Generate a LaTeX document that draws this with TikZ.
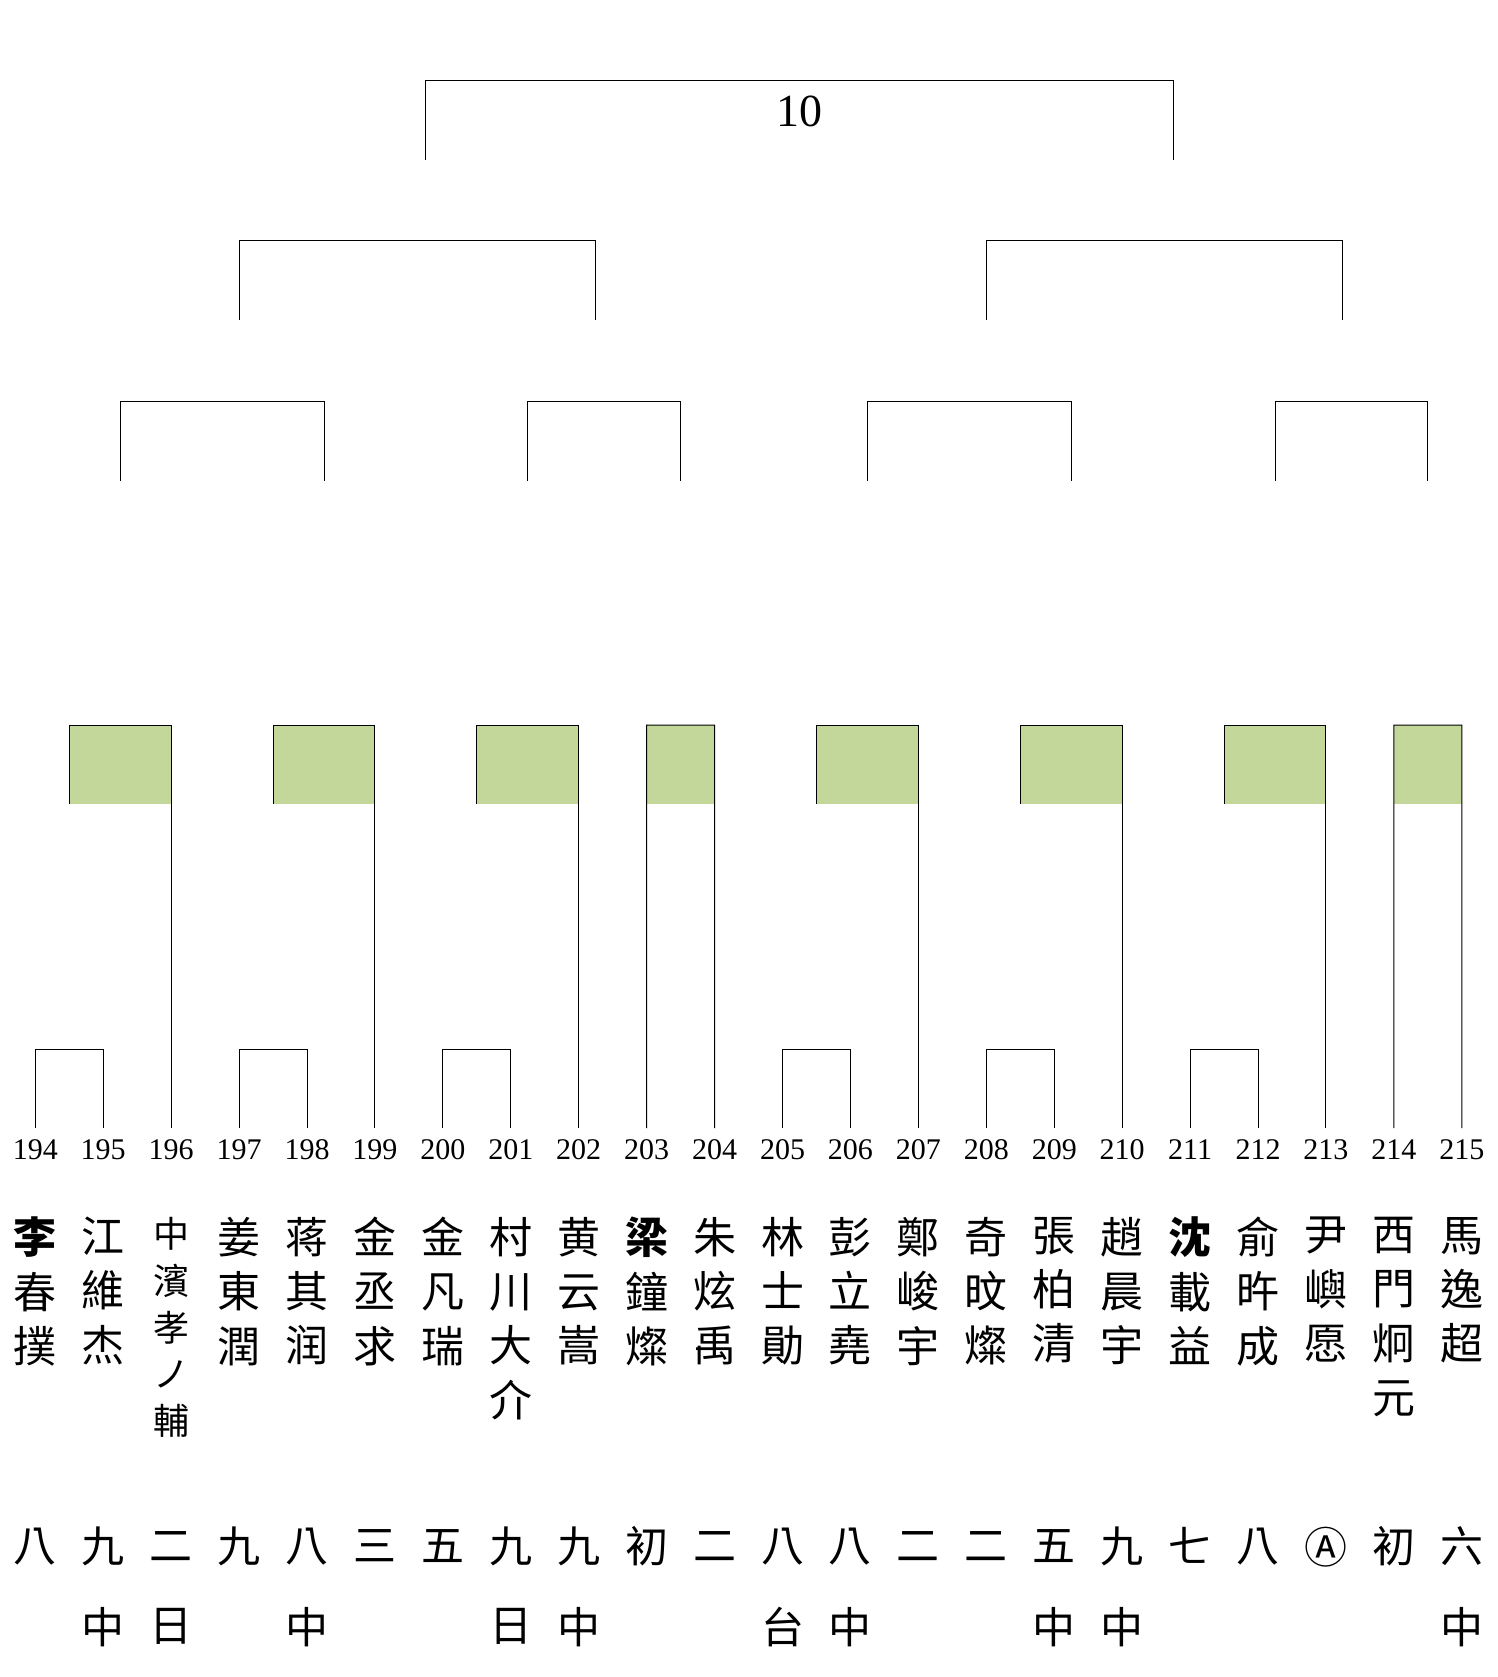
\documentclass[tikz,border=0pt]{standalone}
\usepackage{fontspec}
\usetikzlibrary{calc}
\newfontfamily\cjk{Noto Sans CJK TC}
\newfontfamily\cjkjp{Noto Sans CJK JP}
\newfontfamily\numfont{Liberation Serif}
\definecolor{boxgreen}{RGB}{196,215,155}
\newcommand\zs{\rule[-0.12em]{0pt}{0.88em}}
\begin{document}
\begin{tikzpicture}[x=1pt,y=-1pt,
  br/.style={line width=1pt, black},
  num/.style={font=\numfont\fontsize{30}{30}\selectfont, inner sep=0pt},
  topnum/.style={font=\numfont\fontsize{46}{46}\selectfont, inner sep=0pt},
  pname/.style={font=\cjk\fontsize{43}{54.4}\selectfont, align=center, anchor=north, inner sep=0pt},
  pnamesm/.style={font=\cjk\fontsize{36}{46.8}\selectfont, align=center, anchor=north, inner sep=0pt},
  rank/.style={font=\cjk\fontsize{43}{43}\selectfont, inner sep=0pt}]
\useasboundingbox (0,0) rectangle (1497,1677);
% leaves
\foreach \i in {0,...,21} {
  \pgfmathsetmacro\xx{35.3+67.93*\i}
  \pgfmathtruncatemacro\nn{194+\i}
  \coordinate (t\nn) at (\xx,1128);
  \node[num] (n\nn) at (\xx,1149.5) {\nn};
}
% first-round brackets
\foreach \a/\b in {194/195,197/198,200/201,205/206,208/209,211/212} {
  \draw[br] (t\a) -- ++(0,-79) -| (t\b);
}
% green boxes (second round)
\foreach \k/\a/\b/\c/\full in {1/194/195/196/0,2/197/198/199/0,3/200/201/202/0,4/203/203/204/1,5/205/206/207/0,6/208/209/210/0,7/211/212/213/0,8/214/214/215/1} {
  \coordinate (gm\k) at ($(t\a)!0.5!(t\b)$);
  \coordinate (gl\k) at (gm\k |- 0,725);
  \coordinate (gr\k) at (t\c |- 0,725);
  \coordinate (gb\k) at (gm\k |- 0,804);
  \fill[boxgreen] (gl\k) rectangle (gr\k |- gb\k);
  \ifnum\full=1
    \draw[br] (t\a) -- (gl\k) -- (gr\k) -- (t\c);
  \else
    \draw[br] (gb\k) -- (gl\k) -- (gr\k) -- (t\c);
  \fi
}
% third round
\foreach \k/\a/\b in {1/1/2,2/3/4,3/5/6,4/7/8} {
  \coordinate (pa\k) at ($(gl\a)!0.5!(gr\a)$);
  \coordinate (pb\k) at ($(gl\b)!0.5!(gr\b)$);
  \draw[br] (pa\k |- 0,481) -- (pa\k |- 0,401) -- (pb\k |- 0,401) -- (pb\k |- 0,481);
}
% semifinal
\coordinate (s1) at (t197 |- 0,240.3);
\coordinate (s2) at ($(t202)!0.25!(t203)$);
\coordinate (s3) at (t208 |- 0,240.3);
\coordinate (s4) at ($(t213)!0.25!(t214)$);
\draw[br] (s1 |- 0,320) -- (s1) -- (s2 |- 0,240.3) -- (s2 |- 0,320);
\draw[br] (s3 |- 0,320) -- (s3) -- (s4 |- 0,240.3) -- (s4 |- 0,320);
% final
\coordinate (f1) at ($(t199)!0.75!(t200)$);
\coordinate (f2) at ($(t210)!0.75!(t211)$);
\draw[br] (f1 |- 0,160) -- (f1 |- 0,80.3) -- (f2 |- 0,80.3) -- (f2 |- 0,160);
\node[topnum] (final) at ($(f1 |- 0,111.7)!0.5!(f2 |- 0,111.7)$) {10};
% names
\foreach \n/\txt in {194/{\bfseries 李}\\\zs 春\\\zs 撲,195/江\\\zs 維\\\zs 杰,197/姜\\\zs 東\\\zs 潤,198/蒋\\\zs 其\\\zs 润,199/金\\\zs 丞\\\zs 求,200/金\\\zs 凡\\\zs 瑞,201/村\\\zs 川\\\zs 大\\\zs 介,202/黄\\\zs 云\\\zs 嵩,203/{\bfseries 梁}\\\zs 鐘\\\zs 燦,204/朱\\\zs 炫\\\zs 禹,205/林\\\zs 士\\\zs 勛,206/彭\\\zs 立\\\zs 堯,207/鄭\\\zs 峻\\\zs 宇,208/奇\\\zs 旼\\\zs 燦,209/張\\\zs 柏\\\zs 清,210/趙\\\zs 晨\\\zs 宇,211/{\bfseries 沈}\\\zs 載\\\zs 益,212/俞\\\zs 旿\\\zs 成,213/尹\\\zs 嶼\\\zs 愿,214/西\\\zs 門\\\zs 炯\\\zs 元,215/馬\\\zs 逸\\\zs 超} {
  \node[pname] (p\n) at (t\n |- 0,1216.8) {\zs\txt};
}
\node[pnamesm] (p196) at (t196 |- 0,1217) {\zs 中\\\zs 濱\\\zs 孝\\\zs ノ\\\zs 輔};
% ranks
\foreach \n/\r in {194/八,195/九,196/二,197/九,198/八,199/三,200/五,201/九,202/九,203/初,204/二,205/八,206/八,207/二,208/二,209/五,210/九,211/七,212/八,213/{\cjkjp Ⓐ},214/初,215/六} {
  \node[rank] (r\n) at (t\n |- 0,1547.5) {\zs\r};
}
\foreach \n/\r in {195/中,196/日,198/中,201/日,202/中,205/台,206/中,209/中,210/中,215/中} {
  \node[rank] (q\n) at (t\n |- 0,1627.5) {\zs\r};
}
\end{tikzpicture}
\end{document}
